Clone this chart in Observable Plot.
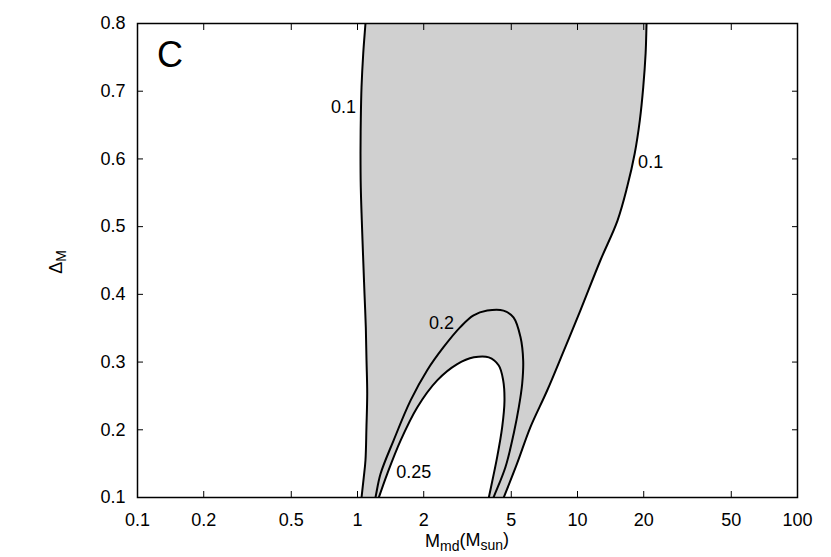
<!DOCTYPE html>
<html><head><meta charset="utf-8">
<script src="https://cdn.jsdelivr.net/npm/d3@7"></script>
<script src="https://cdn.jsdelivr.net/npm/@observablehq/plot@0.6"></script>
<style>
body{margin:0;background:#fff;}
#chart svg{font-family:"Liberation Sans",Arial,Helvetica,sans-serif;}
</style>
</head><body><div id="chart"></div>
<script>
const xTicks = [0.1, 0.2, 0.5, 1, 2, 5, 10, 20, 50, 100];
const yTicks = [0.1, 0.2, 0.3, 0.4, 0.5, 0.6, 0.7, 0.8];

// contour 0.1, left branch (bottom -> top); first/last points sit just outside the frame
const left01 = [[1.018,0.070],[1.043,0.100],[1.068,0.130],[1.087,0.155],[1.098,0.203],[1.107,0.254],[1.099,0.302],[1.091,0.351],[1.076,0.401],[1.062,0.450],[1.046,0.509],[1.035,0.558],[1.032,0.608],[1.035,0.657],[1.043,0.706],[1.062,0.756],[1.087,0.800],[1.114,0.845]];
// contour 0.1, right branch (top -> bottom)
const right01 = [[20.8,0.845],[20.6,0.800],[20.4,0.756],[19.9,0.706],[19.2,0.657],[18.2,0.608],[16.8,0.558],[15.2,0.509],[12.7,0.450],[10.3,0.376],[8.67,0.317],[7.28,0.258],[6.11,0.204],[5.31,0.150],[4.62,0.100],[4.24,0.070]];
// contour 0.2
const c02 = [[1.155,0.070],[1.207,0.100],[1.273,0.135],[1.458,0.184],[1.741,0.243],[2.074,0.288],[2.460,0.322],[2.939,0.352],[3.368,0.369],[3.887,0.376],[4.609,0.376],[5.117,0.366],[5.506,0.337],[5.664,0.302],[5.605,0.268],[5.409,0.233],[5.133,0.195],[4.706,0.145],[4.152,0.100],[3.820,0.070]];
// contour 0.25
const c025 = [[1.165,0.070],[1.250,0.100],[1.365,0.135],[1.569,0.184],[1.868,0.233],[2.303,0.273],[2.840,0.297],[3.379,0.307],[3.953,0.307],[4.387,0.295],[4.594,0.273],[4.657,0.243],[4.546,0.204],[4.315,0.160],[3.953,0.100],[3.780,0.070]];

const contourLabels = [
  {t:"0.1", x:0.864, y:0.677},
  {t:"0.1", x:21.5, y:0.595},
  {t:"0.2", x:2.41, y:0.357},
  {t:"0.25", x:1.80, y:0.138}
];
const panelLabel = [{t:"C", x:0.1405, y:0.7527}];

const grayRegion = left01.concat(right01);
const P = d => ({x: d[0], y: d[1]});
const curve = "catmull-rom";
const font = '"Liberation Sans",Arial,Helvetica,sans-serif';

const plot = Plot.plot({
  width: 831,
  height: 557,
  marginLeft: 137,
  marginRight: 34,
  marginTop: 23,
  marginBottom: 60,
  style: {fontFamily: font, background: "#fff"},
  x: {type: "log", domain: [0.1, 100], label: null},
  y: {domain: [0.1, 0.8], label: null},
  marks: [
    Plot.line(grayRegion.map(P), {x: "x", y: "y", fill: "#d0d0d0", stroke: "none", curve, clip: true}),
    Plot.line(c025.map(P), {x: "x", y: "y", fill: "#ffffff", stroke: "none", curve, clip: true}),
    Plot.line(left01.map(P), {x: "x", y: "y", stroke: "#000", strokeWidth: 2, curve, clip: true}),
    Plot.line(right01.map(P), {x: "x", y: "y", stroke: "#000", strokeWidth: 2, curve, clip: true}),
    Plot.line(c02.map(P), {x: "x", y: "y", stroke: "#000", strokeWidth: 2, curve, clip: true}),
    Plot.line(c025.map(P), {x: "x", y: "y", stroke: "#000", strokeWidth: 2, curve, clip: true}),
    Plot.frame({stroke: "#000", strokeWidth: 1.5}),
    Plot.axisX(xTicks, {anchor: "bottom", tickSize: -6, tickFormat: () => "", stroke: "#000"}),
    Plot.axisX(xTicks, {anchor: "top", tickSize: -6, tickFormat: () => "", stroke: "#000"}),
    Plot.text(xTicks, {x: d => d, frameAnchor: "bottom", lineAnchor: "top", dy: 16, text: d => `${d}`, fontSize: 18, fill: "#000"}),
    Plot.axisY(yTicks, {anchor: "left", tickSize: -6, tickPadding: 18, fontSize: 18, tickFormat: d => d.toFixed(1), fill: "#000", stroke: "#000"}),
    Plot.axisY(yTicks, {anchor: "right", tickSize: -6, tickFormat: () => "", stroke: "#000"}),
    Plot.text(contourLabels, {x: "x", y: "y", text: "t", fontSize: 18, fill: "#000"}),
    Plot.text(panelLabel, {x: "x", y: "y", text: "t", fontSize: 36, fill: "#000"})
  ]
});
document.getElementById("chart").appendChild(plot);

const svg = d3.select(plot);
const xl = svg.append("text")
  .attr("x", 467).attr("y", 547)
  .attr("text-anchor", "middle")
  .attr("font-family", font)
  .attr("font-size", 18).attr("fill", "#000");
xl.append("tspan").text("M");
xl.append("tspan").attr("dy", "0.3em").attr("font-size", 14).text("md");
xl.append("tspan").attr("dy", "-0.3em").text("(M");
xl.append("tspan").attr("dy", "0.3em").attr("font-size", 14).text("sun");
xl.append("tspan").attr("dy", "-0.3em").text(")");

const yl = svg.append("text")
  .attr("transform", "translate(62,262) rotate(-90)")
  .attr("text-anchor", "middle")
  .attr("font-family", font)
  .attr("font-size", 18).attr("fill", "#000");
yl.append("tspan").text("Δ");
yl.append("tspan").attr("dy", "0.3em").attr("font-size", 14).text("M");
</script>
</body></html>
